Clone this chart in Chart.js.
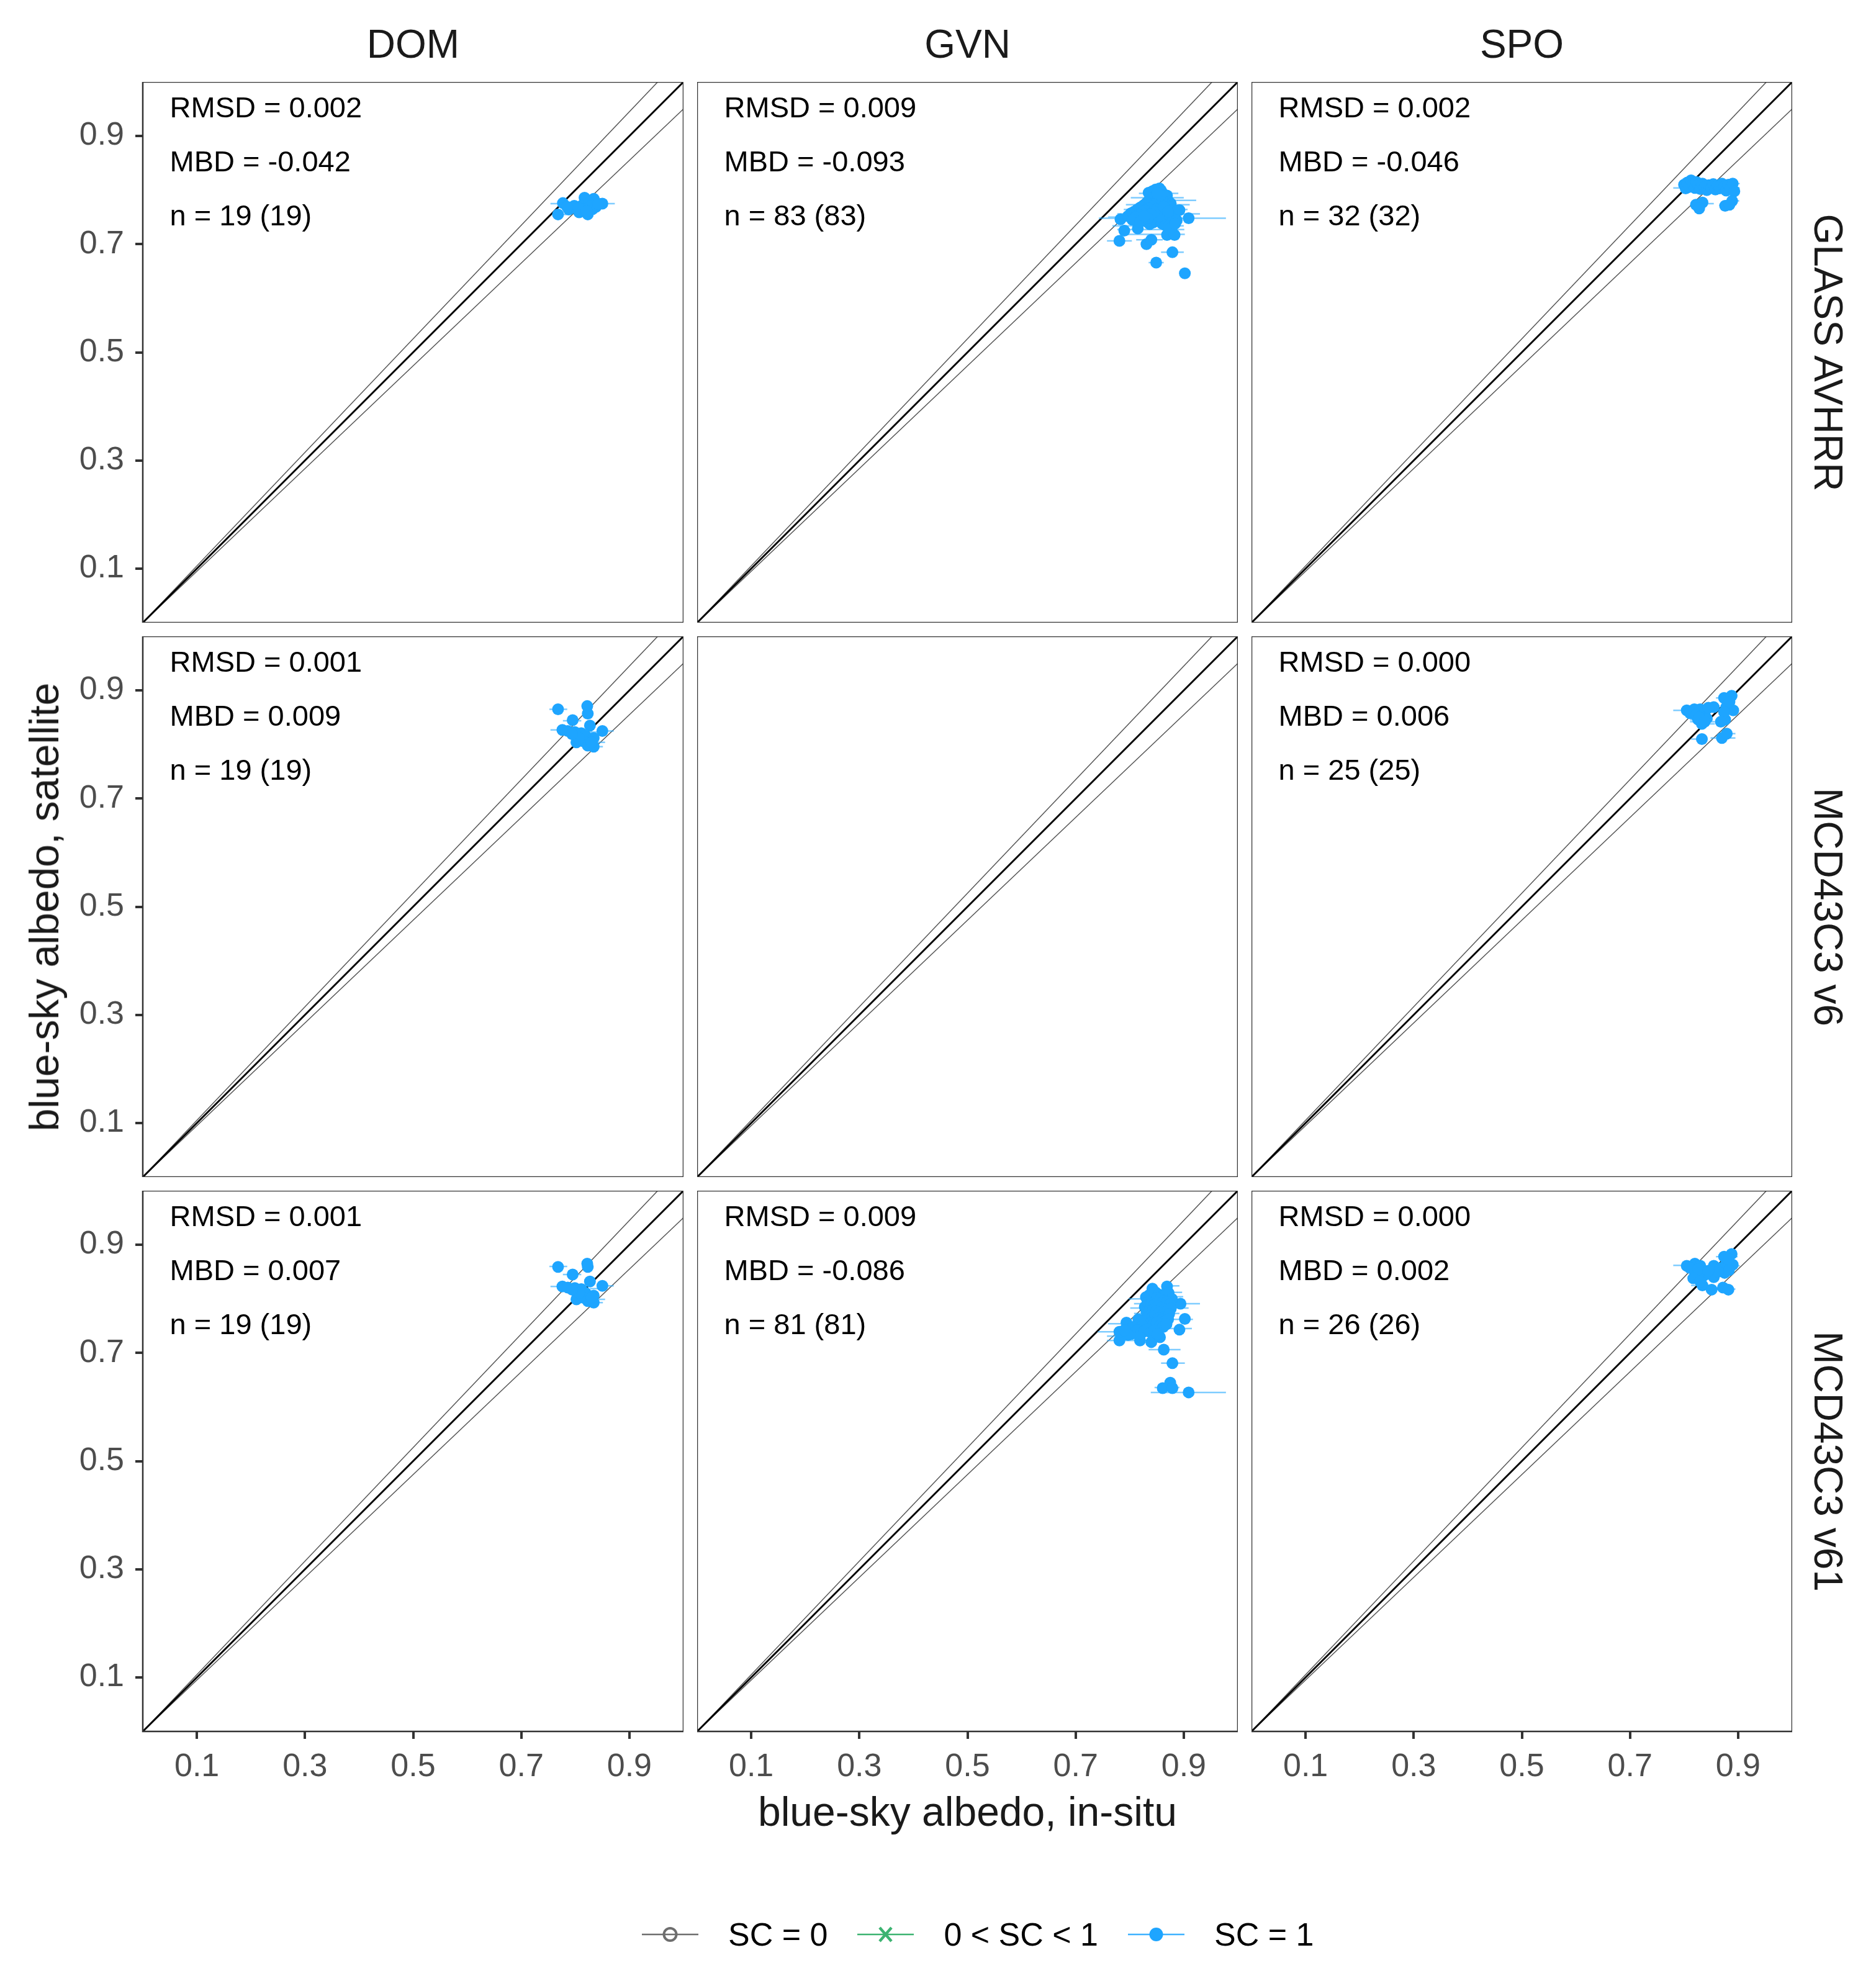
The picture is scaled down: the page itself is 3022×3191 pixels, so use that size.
<!DOCTYPE html>
<html><head><meta charset="utf-8">
<script src="https://cdn.jsdelivr.net/npm/chart.js@4.4.1/dist/chart.umd.min.js"></script>
<style>
html,body{margin:0;padding:0;background:#fff;}
body{width:3022px;height:3191px;position:relative;overflow:hidden;font-family:"Liberation Sans",Arial,sans-serif;}
canvas{position:absolute;}
.lbl{position:absolute;white-space:nowrap;line-height:1;color:#1a1a1a;transform:translate(-50%,-50%);}
#legend{position:absolute;left:1034px;top:3076px;height:80px;display:flex;align-items:center;font-size:52px;color:#000;white-space:nowrap;}
#legend svg{margin-right:48px;}
#legend span{margin-right:48px;}
</style></head><body>
<script>
// ---------- labels ----------
const colLabels = ['DOM', 'GVN', 'SPO'];
const rowLabels = ['GLASS AVHRR', 'MCD43C3 v6', 'MCD43C3 v61'];
const tickValues = [0.1, 0.3, 0.5, 0.7, 0.9];
const tickLabels = ['0.1', '0.3', '0.5', '0.7', '0.9'];
const refSlopes = [1, 1.05, 0.95];
const xTitle = 'blue-sky albedo, in-situ';
const yTitle = 'blue-sky albedo, satellite';
const legendLabels = ['SC = 0', '0 < SC < 1', 'SC = 1'];

// ---------- DOM / GLASS AVHRR ----------
const dom_glass_x = [.768,.777,.798,.807,.817,.834,.850,.823,.832,.788,.785,.813,.825,.829,.838,.815,.806,.821,.842];
const dom_glass_y = [.755,.776,.771,.759,.786,.784,.775,.755,.765,.764,.769,.772,.776,.771,.769,.765,.767,.761,.775];
const dom_glass_ey = [.775,.755];
const dom_glass_emin = [.754,.757];
const dom_glass_emax = [.873,.790];
const dom_glass_stats = ['RMSD = 0.002', 'MBD = -0.042', 'n = 19 (19)'];

// ---------- GVN / GLASS AVHRR ----------
const gvn_glass_x = [.781,.831,.840,.879,.849,.902,.909,.783,.790,.815,.846,.869,.892,.869,.883,
 .835,.842,.848,.851,.855,.858,.861,.864,.867,.870,.873,.876,.852,.846,.838,.832,.826,.820,.814,.808,.802,.797,
 .844,.856,.862,.868,.874,.880,.886,.859,.853,.847,.841,.835,.829,.823,.817,.811,.805,.850,.857,.863,.869,.875,
 .881,.887,.854,.848,.843,.837,.831,.825,.819,.860,.866,.872,.878,.884,.849,.855,.845,.839,.833,.827,.863,.871,.857,.851];
const gvn_glass_y = [.706,.700,.708,.685,.666,.646,.748,.746,.725,.729,.792,.790,.763,.717,.717,
 .795,.798,.801,.797,.803,.799,.794,.790,.786,.782,.778,.775,.789,.785,.781,.777,.772,.768,.764,.760,.757,.752,
 .770,.776,.780,.772,.768,.764,.760,.783,.779,.775,.770,.766,.762,.758,.754,.750,.745,.765,.761,.757,.753,.750,
 .747,.744,.748,.744,.740,.737,.742,.746,.741,.738,.735,.733,.731,.738,.756,.752,.760,.756,.748,.752,.769,.760,.791,.794];
const gvn_glass_ey = [.794,.786,.781,.773,.764,.756,.748,.750,.734,.727,.718,.706,.708,.685,.666];
const gvn_glass_emin = [.817,.802,.827,.793,.789,.777,.743,.760,.768,.777,.789,.758,.812,.858,.835];
const gvn_glass_emax = [.890,.900,.923,.911,.907,.930,.978,.816,.900,.901,.902,.804,.861,.900,.863];
const gvn_glass_stats = ['RMSD = 0.009', 'MBD = -0.093', 'n = 83 (83)'];

// ---------- SPO / GLASS AVHRR ----------
const spo_glass_x = [.800,.803,.806,.810,.813,.816,.820,.823,.826,.830,.834,.838,.842,.846,.850,.854,.858,.862,.866,.870,.874,.878,.882,.886,.890,.893,.822,.834,.828,.876,.889,.884];
const spo_glass_y = [.810,.803,.814,.806,.818,.811,.804,.815,.809,.802,.812,.806,.800,.809,.804,.811,.801,.808,.803,.812,.806,.799,.810,.804,.812,.798,.773,.777,.766,.771,.780,.773];
const spo_glass_ey = [.804,.812,.775,.772,.780];
const spo_glass_emin = [.780,.869,.843,.865,.884];
const spo_glass_emax = [.903,.903,.855,.880,.902];
const spo_glass_stats = ['RMSD = 0.002', 'MBD = -0.046', 'n = 32 (32)'];

// ---------- DOM / MCD43C3 v6 ----------
const dom_v6_x = [.768,.822,.823,.795,.827,.850,.776,.786,.799,.811,.819,.834,.802,.815,.823,.834,.807,.830,.794];
const dom_v6_y = [.865,.871,.857,.845,.835,.825,.827,.825,.823,.821,.816,.812,.804,.806,.798,.796,.811,.804,.819];
const dom_v6_ey = [.865,.844,.827,.825,.823,.804,.796];
const dom_v6_emin = [.752,.777,.754,.850,.827,.836,.830];
const dom_v6_emax = [.785,.811,.781,.871,.846,.855,.851];
const dom_v6_stats = ['RMSD = 0.001', 'MBD = 0.009', 'n = 19 (19)'];

// ---------- GVN / MCD43C3 v6 (no data) ----------
const gvn_v6_x = [];
const gvn_v6_y = [];
const gvn_v6_ey = [];
const gvn_v6_emin = [];
const gvn_v6_emax = [];
const gvn_v6_stats = [];

// ---------- SPO / MCD43C3 v6 ----------
const spo_v6_x = [.805,.819,.830,.838,.855,.874,.888,.878,.891,.876,.834,.826,.833,.833,.870,.879,.811,.822,.842,.884,.874,.845,.828,.868,.838];
const spo_v6_y = [.863,.865,.865,.860,.869,.886,.890,.869,.863,.846,.842,.846,.838,.810,.812,.820,.858,.854,.848,.879,.860,.868,.850,.842,.842];
const spo_v6_ey = [.863,.886,.846,.842,.838,.810,.812,.820];
const spo_v6_emin = [.780,.859,.811,.811,.839,.813,.849,.878];
const spo_v6_emax = [.807,.891,.853,.857,.857,.843,.895,.895];
const spo_v6_stats = ['RMSD = 0.000', 'MBD = 0.006', 'n = 25 (25)'];

// ---------- DOM / MCD43C3 v61 ----------
const dom_v61_x = [.768,.822,.823,.795,.827,.850,.776,.786,.799,.811,.819,.834,.802,.815,.823,.834,.807,.830,.794];
const dom_v61_y = [.859,.865,.859,.845,.832,.824,.823,.821,.820,.818,.811,.806,.799,.802,.796,.793,.811,.802,.817];
const dom_v61_ey = [.860,.845,.823,.824,.819,.799,.793];
const dom_v61_emin = [.752,.777,.754,.850,.827,.836,.830];
const dom_v61_emax = [.785,.811,.781,.871,.846,.855,.851];
const dom_v61_stats = ['RMSD = 0.001', 'MBD = 0.007', 'n = 19 (19)'];

// ---------- GVN / MCD43C3 v61 ----------
const gvn_v61_x = [.842,.869,.894,.902,.892,.863,.879,.861,.875,.879,.909,.781,.781,.794,.819,.840,.856,.816,
 .830,.836,.842,.848,.854,.860,.866,.872,.878,.833,.839,.845,.851,.857,.863,.869,.875,
 .828,.834,.840,.846,.852,.858,.864,.870,.876,.831,.837,.843,.849,.855,.861,.867,.873,
 .835,.841,.847,.853,.859,.865,.871,.838,.844,.850,.856,.862,.868,
 .800,.806,.812,.818,.824,.803,.809,.815,.821,.827,.797,.833,.839,.845,.851,.790];
const gvn_v61_y = [.819,.823,.791,.763,.743,.706,.681,.635,.645,.635,.627,.723,.739,.756,.723,.720,.729,.762,
 .803,.807,.810,.812,.808,.805,.809,.811,.800,.793,.797,.800,.802,.799,.796,.794,.790,
 .785,.788,.791,.789,.786,.783,.780,.778,.782,.776,.778,.780,.777,.774,.771,.768,.772,
 .767,.765,.768,.764,.761,.758,.762,.755,.752,.756,.750,.748,.753,
 .745,.748,.741,.744,.750,.735,.738,.742,.736,.740,.733,.744,.738,.741,.735,.742];
const gvn_v61_ey = [.824,.812,.804,.800,.791,.783,.773,.762,.754,.745,.739,.731,.723,.706,.681,.636,.627];
const gvn_v61_emin = [.861,.850,.842,.798,.808,.801,.808,.816,.760,.789,.741,.758,.758,.835,.858,.846,.839];
const gvn_v61_emax = [.892,.897,.899,.877,.930,.909,.892,.917,.854,.915,.846,.858,.850,.894,.902,.892,.978];
const gvn_v61_stats = ['RMSD = 0.009', 'MBD = -0.086', 'n = 81 (81)'];

// ---------- SPO / MCD43C3 v61 ----------
const spo_v61_x = [.805,.820,.830,.834,.855,.874,.888,.878,.890,.875,.855,.834,.851,.872,.882,.822,.838,.811,.826,.868,.883,.882,.863,.845,.817,.830];
const spo_v61_y = [.861,.865,.861,.852,.861,.878,.883,.865,.863,.848,.840,.825,.817,.821,.817,.846,.844,.857,.855,.857,.853,.873,.850,.852,.838,.832];
const spo_v61_ey = [.862,.878,.846,.850,.825,.818,.861];
const spo_v61_emin = [.780,.859,.811,.842,.813,.857,.880];
const spo_v61_emax = [.807,.899,.853,.865,.849,.895,.903];
const spo_v61_stats = ['RMSD = 0.000', 'MBD = 0.002', 'n = 26 (26)'];

// ---------- layout / style ----------
const G = {left: 230, top: 132, size: 871, gap: 22, yAxisW: 140, xAxisH: 100};
const statX = 0.05;
const statY = [0.95, 0.85, 0.75];
const FONT = '"Liberation Sans", Arial, sans-serif';
const PT_COLOR = '#1EA5FF';
const ERR_COLOR = 'rgba(40,170,255,0.6)';
const refColors = ['#000000', '#555555', '#555555'];
const refWidths = [3, 1.5, 1.5];

const panels = [
  [dom_glass_x, dom_glass_y, dom_glass_ey, dom_glass_emin, dom_glass_emax, dom_glass_stats],
  [gvn_glass_x, gvn_glass_y, gvn_glass_ey, gvn_glass_emin, gvn_glass_emax, gvn_glass_stats],
  [spo_glass_x, spo_glass_y, spo_glass_ey, spo_glass_emin, spo_glass_emax, spo_glass_stats],
  [dom_v6_x, dom_v6_y, dom_v6_ey, dom_v6_emin, dom_v6_emax, dom_v6_stats],
  [gvn_v6_x, gvn_v6_y, gvn_v6_ey, gvn_v6_emin, gvn_v6_emax, gvn_v6_stats],
  [spo_v6_x, spo_v6_y, spo_v6_ey, spo_v6_emin, spo_v6_emax, spo_v6_stats],
  [dom_v61_x, dom_v61_y, dom_v61_ey, dom_v61_emin, dom_v61_emax, dom_v61_stats],
  [gvn_v61_x, gvn_v61_y, gvn_v61_ey, gvn_v61_emin, gvn_v61_emax, gvn_v61_stats],
  [spo_v61_x, spo_v61_y, spo_v61_ey, spo_v61_emin, spo_v61_emax, spo_v61_stats]
];

const framePlugin = {
  id: 'frame',
  afterDraw(chart) {
    const {ctx, chartArea: a} = chart;
    ctx.save();
    ctx.strokeStyle = '#333333';
    ctx.lineWidth = 2.5;
    ctx.strokeRect(a.left, a.top, a.right - a.left, a.bottom - a.top);
    ctx.restore();
  }
};
const statPlugin = {
  id: 'stats',
  afterDatasetsDraw(chart, args, opts) {
    const lines = opts.lines || [];
    const {ctx} = chart;
    const xs = chart.scales.x, ys = chart.scales.y;
    ctx.save();
    ctx.font = '47px ' + FONT;
    ctx.fillStyle = '#000000';
    ctx.textAlign = 'left';
    ctx.textBaseline = 'middle';
    lines.forEach((t, i) => ctx.fillText(t, xs.getPixelForValue(statX), ys.getPixelForValue(statY[i])));
    ctx.restore();
  }
};

function axisCfg(show, isX) {
  return {
    type: 'linear', min: 0, max: 1, display: show,
    afterBuildTicks: s => { s.ticks = tickValues.map(v => ({value: v})); },
    afterFit: s => {
      s.paddingTop = 0; s.paddingBottom = 0; s.paddingLeft = 0; s.paddingRight = 0;
      if (isX) s.height = show ? G.xAxisH : 0; else s.width = show ? G.yAxisW : 0;
    },
    ticks: {
      callback: v => tickLabels[tickValues.indexOf(v)],
      color: '#4D4D4D', font: {family: FONT, size: 52},
      padding: isX ? 14 : 18, maxRotation: 0, autoSkip: false
    },
    grid: {display: true, drawOnChartArea: false, drawTicks: true, tickLength: 12, color: '#333333', lineWidth: 4},
    border: {display: false}
  };
}

function addLabel(text, x, y, size, rot) {
  const d = document.createElement('div');
  d.className = 'lbl';
  d.textContent = text;
  d.style.left = x + 'px'; d.style.top = y + 'px';
  d.style.fontSize = size + 'px';
  d.style.transform = 'translate(-50%,-50%) rotate(' + rot + 'deg)';
  document.body.appendChild(d);
}

panels.forEach((p, idx) => {
  const r = Math.floor(idx / 3), c = idx % 3;
  const [px, py, ey, emin, emax, stats] = p;
  const pl = G.left + c * (G.size + G.gap), pt = G.top + r * (G.size + G.gap);
  const showY = c === 0, showX = r === 2;
  const cw = G.size + (showY ? G.yAxisW : 0), ch = G.size + (showX ? G.xAxisH : 0);
  const cv = document.createElement('canvas');
  cv.width = cw; cv.height = ch;
  cv.style.left = (pl - (showY ? G.yAxisW : 0)) + 'px';
  cv.style.top = pt + 'px';
  cv.style.width = cw + 'px'; cv.style.height = ch + 'px';
  document.body.appendChild(cv);

  const errData = [];
  ey.forEach((yy, i) => { errData.push({x: emin[i], y: yy}, {x: emax[i], y: yy}, {x: emax[i], y: null}); });
  const datasets = [
    {type: 'scatter', data: px.map((v, i) => ({x: v, y: py[i]})), backgroundColor: PT_COLOR, borderWidth: 0, pointRadius: 9.5, order: 0},
    {type: 'line', data: errData, borderColor: ERR_COLOR, borderWidth: 2.5, pointRadius: 0, spanGaps: false, fill: false, order: 1}
  ];
  refSlopes.forEach((s, i) => datasets.push({
    type: 'line', data: [{x: 0, y: 0}, {x: 1, y: s}], borderColor: refColors[i], borderWidth: refWidths[i],
    pointRadius: 0, fill: false, order: 2 + i
  }));

  new Chart(cv, {
    type: 'scatter',
    data: {datasets},
    options: {
      responsive: false, animation: false, events: [],
      layout: {padding: 0, autoPadding: false},
      scales: {x: axisCfg(showX, true), y: axisCfg(showY, false)},
      plugins: {legend: {display: false}, tooltip: {enabled: false}, stats: {lines: stats}}
    },
    plugins: [framePlugin, statPlugin]
  });

  if (r === 0) addLabel(colLabels[c], pl + G.size / 2, 71, 64, 0);
  if (c === 2) addLabel(rowLabels[r], 2945, pt + G.size / 2, 64, 90);
});

const fullMid = G.left + (3 * G.size + 2 * G.gap) / 2;
const fullMidY = G.top + (3 * G.size + 2 * G.gap) / 2;
addLabel(xTitle, fullMid, 2918, 66, 0);
addLabel(yTitle, 71, fullMidY, 66, -90);

// legend
const leg = document.createElement('div');
leg.id = 'legend';
const legSym = [
  '<svg width="91" height="40"><line x1="0" y1="20" x2="91" y2="20" stroke="#6E6E6E" stroke-width="2.5"/><circle cx="45.5" cy="20" r="10" fill="none" stroke="#6E6E6E" stroke-width="4"/></svg>',
  '<svg width="91" height="40"><line x1="0" y1="20" x2="91" y2="20" stroke="#3CB371" stroke-width="2.5"/><path d="M36 9 L55 31 M55 9 L36 31" stroke="#3CB371" stroke-width="4.5"/></svg>',
  '<svg width="91" height="40"><line x1="0" y1="20" x2="91" y2="20" stroke="#3FB2FF" stroke-width="2.5"/><circle cx="45.5" cy="20" r="11" fill="' + PT_COLOR + '"/></svg>'
];
leg.innerHTML = legendLabels.map((t, i) => legSym[i] + '<span>' + t.replace(/</g, '&lt;') + '</span>').join('');
document.body.appendChild(leg);
</script>
</body></html>
